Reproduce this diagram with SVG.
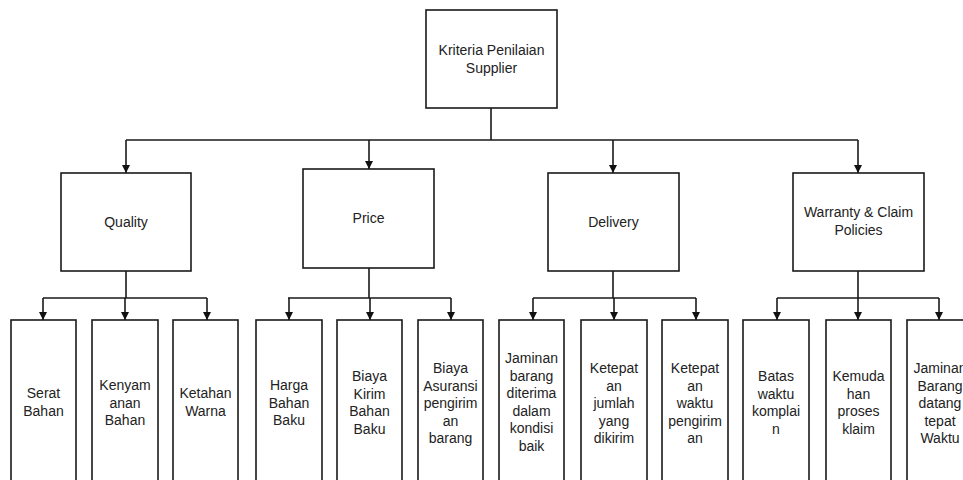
<svg xmlns="http://www.w3.org/2000/svg" width="963" height="480" viewBox="0 0 963 480">
<defs>
<marker id="ah" markerWidth="8" markerHeight="8" refX="8" refY="4" orient="auto" markerUnits="userSpaceOnUse">
<path d="M0,0 L8,4 L0,8 Z" fill="#111"/>
</marker>
<style>
rect{fill:#fff;stroke:#1a1a1a;stroke-width:1.6}
.c path{fill:none;stroke:#1a1a1a;stroke-width:1.6}
.c .a{marker-end:url(#ah)}
text{font-family:"Liberation Sans",Arial,sans-serif;font-size:14px;fill:#222;text-anchor:middle}
</style>
</defs>
<rect x="0" y="0" width="963" height="480" style="fill:#fff;stroke:none"/>
<g class="c">
<path d="M491,108 V140 M126,140 H858"/>
<path class="a" d="M126,140 V173"/>
<path class="a" d="M369,140 V169"/>
<path class="a" d="M613,140 V173"/>
<path class="a" d="M858,140 V173"/>
<path d="M126,271 V298 M43,298 H207"/>
<path class="a" d="M43,298 V320"/><path class="a" d="M125,298 V320"/><path class="a" d="M207,298 V320"/>
<path d="M369,268 V298 M288,298 H451"/>
<path class="a" d="M289,298 V320"/><path class="a" d="M370,298 V320"/><path class="a" d="M451,298 V320"/>
<path d="M613,271 V298 M533,298 H696"/>
<path class="a" d="M533,298 V320"/><path class="a" d="M614,298 V320"/><path class="a" d="M696,298 V320"/>
<path d="M858,271 V298 M777,298 H939"/>
<path class="a" d="M777,298 V320"/><path class="a" d="M858,298 V320"/><path class="a" d="M939,298 V320"/>
</g>
<g id="root"><rect x="426" y="10" width="131" height="98"/><text x="491.5" y="55">Kriteria Penilaian</text><text x="491.5" y="73">Supplier</text></g>
<g id="quality"><rect x="61" y="173" width="130" height="98"/><text x="126" y="227">Quality</text></g>
<g id="price"><rect x="303" y="169" width="131" height="99"/><text x="368.5" y="223">Price</text></g>
<g id="delivery"><rect x="548" y="173" width="131" height="98"/><text x="613.5" y="227">Delivery</text></g>
<g id="warranty"><rect x="793" y="173" width="131" height="98"/><text x="858.5" y="217">Warranty &amp; Claim</text><text x="858.5" y="235">Policies</text></g>
<g id="l1"><rect x="11" y="320" width="65" height="170"/><text x="43.5" y="398">Serat</text><text x="43.5" y="415.5">Bahan</text></g>
<g id="l2"><rect x="92" y="320" width="66" height="170"/><text x="125" y="390">Kenyam</text><text x="125" y="407.5">anan</text><text x="125" y="425">Bahan</text></g>
<g id="l3"><rect x="173" y="320" width="65" height="170"/><text x="205.5" y="398">Ketahan</text><text x="205.5" y="415.5">Warna</text></g>
<g id="l4"><rect x="256" y="320" width="66" height="170"/><text x="289" y="390">Harga</text><text x="289" y="407.5">Bahan</text><text x="289" y="425">Baku</text></g>
<g id="l5"><rect x="337" y="320" width="65" height="170"/><text x="369.5" y="381">Biaya</text><text x="369.5" y="398.5">Kirim</text><text x="369.5" y="416">Bahan</text><text x="369.5" y="433.5">Baku</text></g>
<g id="l6"><rect x="418" y="320" width="65" height="170"/><text x="450.5" y="373">Biaya</text><text x="450.5" y="390.5">Asuransi</text><text x="450.5" y="408">pengirim</text><text x="450.5" y="425.5">an</text><text x="450.5" y="443">barang</text></g>
<g id="l7"><rect x="499" y="320" width="65" height="170"/><text x="531.5" y="363">Jaminan</text><text x="531.5" y="380.5">barang</text><text x="531.5" y="398">diterima</text><text x="531.5" y="415.5">dalam</text><text x="531.5" y="433">kondisi</text><text x="531.5" y="450.5">baik</text></g>
<g id="l8"><rect x="581" y="320" width="66" height="170"/><text x="614" y="373">Ketepat</text><text x="614" y="390.5">an</text><text x="614" y="408">jumlah</text><text x="614" y="425.5">yang</text><text x="614" y="443">dikirim</text></g>
<g id="l9"><rect x="662" y="320" width="66" height="170"/><text x="695" y="373">Ketepat</text><text x="695" y="390.5">an</text><text x="695" y="408">waktu</text><text x="695" y="425.5">pengirim</text><text x="695" y="443">an</text></g>
<g id="l10"><rect x="743" y="320" width="66" height="170"/><text x="776" y="381">Batas</text><text x="776" y="398.5">waktu</text><text x="776" y="416">komplai</text><text x="776" y="433.5">n</text></g>
<g id="l11"><rect x="826" y="320" width="65" height="170"/><text x="858.5" y="381">Kemuda</text><text x="858.5" y="398.5">han</text><text x="858.5" y="416">proses</text><text x="858.5" y="433.5">klaim</text></g>
<g id="l12"><rect x="907" y="320" width="66" height="170"/><text x="940" y="373">Jaminan</text><text x="940" y="390.5">Barang</text><text x="940" y="408">datang</text><text x="940" y="425.5">tepat</text><text x="940" y="443">Waktu</text></g>
</svg>
